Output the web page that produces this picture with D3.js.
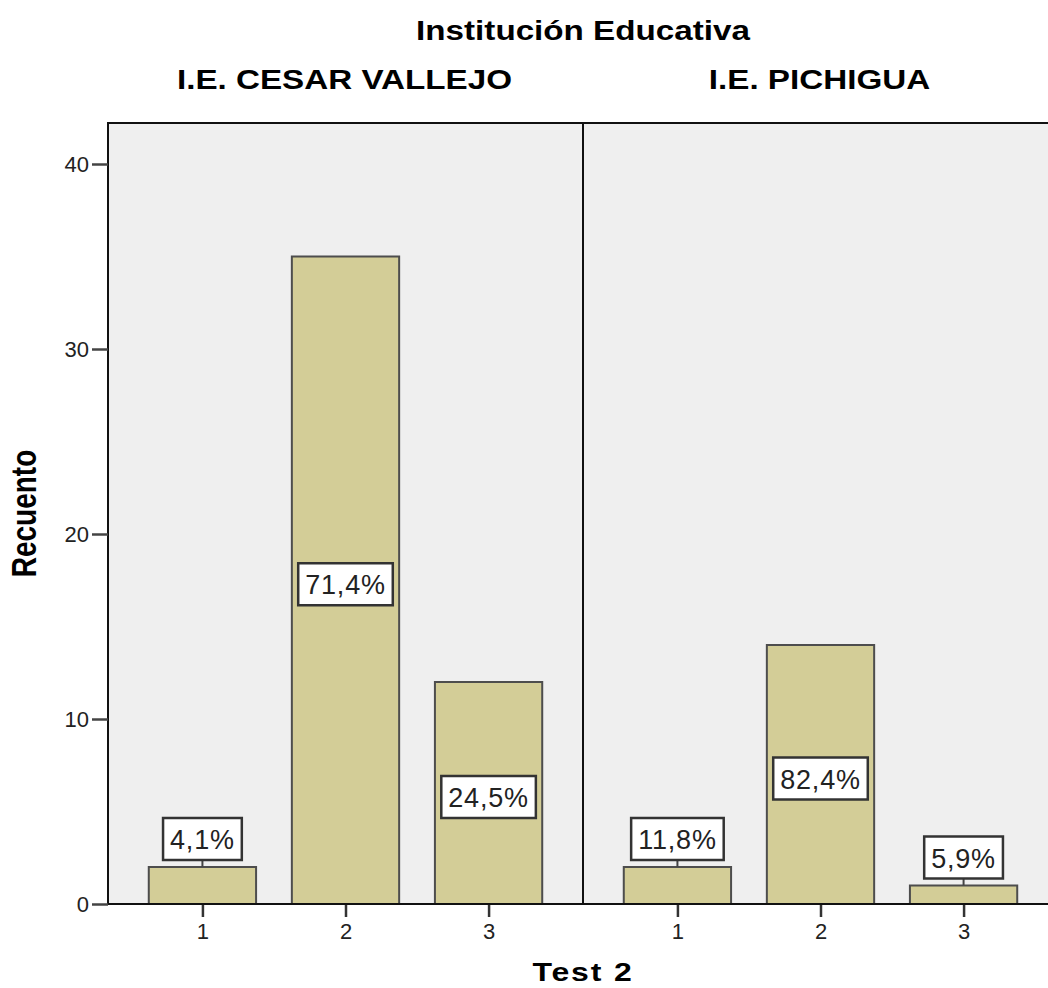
<!DOCTYPE html>
<html>
<head>
<meta charset="utf-8">
<script src="https://cdn.jsdelivr.net/npm/d3@7"></script>
<style>
  body { margin: 0; background: #fff; }
  text { font-family: "Liberation Sans", Arial, sans-serif; }
</style>
</head>
<body>
<div id="chart"></div>
<script>
// data
const panels = ["I.E. CESAR VALLEJO", "I.E. PICHIGUA"];
const categories = ["1", "2", "3"];
const counts = [[2, 35, 12], [2, 14, 1]];
const pctLabels = [["4,1%", "71,4%", "24,5%"], ["11,8%", "82,4%", "5,9%"]];
const yTicks = [0, 10, 20, 30, 40];

const W = 1048, H = 988;
const plotLeft = 108, plotTop = 123, plotBottom = 904, panelW = 475;
const stretch = 1.23; // the original text is wider than plain Arial

const svg = d3.select("#chart").append("svg")
  .attr("width", W)
  .attr("height", H);

const y = d3.scaleLinear().domain([0, 40]).range([plotBottom, 164]);

// bold heading stretched horizontally
function heading(cx, cy, size, str, spacing) {
  svg.append("text")
    .attr("transform", `translate(${cx},${cy}) scale(${stretch},1)`)
    .attr("text-anchor", "middle")
    .attr("font-size", size)
    .attr("font-weight", "bold")
    .attr("letter-spacing", spacing || 0)
    .attr("fill", "#000")
    .text(str);
}

// background
svg.append("rect")
  .attr("x", plotLeft).attr("y", plotTop)
  .attr("width", panelW * 2).attr("height", plotBottom - plotTop)
  .attr("fill", "#efefef");

panels.forEach((name, p) => {
  const x0 = plotLeft + p * panelW;
  const x = d3.scalePoint().domain(categories).range([x0, x0 + panelW]).padding(0.66);
  const barW = x.step() * 0.75;

  svg.append("g").selectAll("rect.bar")
    .data(counts[p])
    .enter()
    .append("rect")
    .attr("class", "bar")
    .attr("x", (d, i) => x(categories[i]) - barW / 2)
    .attr("y", d => y(d))
    .attr("width", barW)
    .attr("height", d => plotBottom - y(d))
    .attr("fill", "#d3cd97")
    .attr("stroke", "#4d4d4d")
    .attr("stroke-width", 2);

  // x axis ticks
  const ax = svg.append("g")
    .attr("transform", `translate(0,${plotBottom})`)
    .call(d3.axisBottom(x).tickSize(13).tickPadding(6));
  ax.select(".domain").remove();
  ax.selectAll("line").attr("stroke", "#333").attr("stroke-width", 2.5);
  ax.selectAll("text").attr("font-size", 22).attr("fill", "#222")
    .style("font-family", "'Liberation Sans', Arial, sans-serif");

  heading(x0 + panelW / 2 - 1, 89, 27, name);

  // percentage labels
  counts[p].forEach((v, i) => {
    const cx = x(categories[i]);
    const txt = pctLabels[p][i];
    const inside = v >= 10;
    const cy = inside ? y(v / 2) + 4 : y(v) - 28;
    const lg = svg.append("g");
    const t = lg.append("text")
      .attr("x", cx)
      .attr("y", cy + 10)
      .attr("text-anchor", "middle")
      .attr("font-size", 27)
      .attr("letter-spacing", 0.8)
      .attr("fill", "#222")
      .text(txt);
    const bw = t.node().getComputedTextLength() + 14;
    if (!inside) {
      lg.insert("line", "text")
        .attr("x1", cx).attr("x2", cx)
        .attr("y1", cy + 21).attr("y2", y(v))
        .attr("stroke", "#444").attr("stroke-width", 2);
    }
    lg.insert("rect", "text")
      .attr("x", cx - bw / 2)
      .attr("y", cy - 21)
      .attr("width", bw)
      .attr("height", 42)
      .attr("fill", "#fff")
      .attr("stroke", "#333")
      .attr("stroke-width", 2.5);
  });
});

// divider
svg.append("line")
  .attr("x1", plotLeft + panelW).attr("x2", plotLeft + panelW)
  .attr("y1", plotTop).attr("y2", plotBottom)
  .attr("stroke", "#111").attr("stroke-width", 2);

// frame
svg.append("rect")
  .attr("x", plotLeft).attr("y", plotTop)
  .attr("width", panelW * 2).attr("height", plotBottom - plotTop)
  .attr("fill", "none")
  .attr("stroke", "#111")
  .attr("stroke-width", 2);

// y axis
const ay = svg.append("g")
  .attr("transform", `translate(${plotLeft},0)`)
  .call(d3.axisLeft(y).tickValues(yTicks).tickSize(16).tickPadding(3));
ay.select(".domain").remove();
ay.selectAll("line").attr("stroke", "#444").attr("stroke-width", 2.5);
ay.selectAll("text").attr("font-size", 22).attr("fill", "#222")
  .style("font-family", "'Liberation Sans', Arial, sans-serif");

// titles
heading(plotLeft + panelW, 40, 27, "Institución Educativa");
heading(plotLeft + panelW, 981, 26, "Test 2", 1.5);

svg.append("text")
  .attr("transform", `translate(36,${(plotTop + plotBottom) / 2}) rotate(-90) scale(1,${stretch})`)
  .attr("text-anchor", "middle")
  .attr("font-size", 28)
  .attr("font-weight", "bold")
  .text("Recuento");
</script>
</body>
</html>
